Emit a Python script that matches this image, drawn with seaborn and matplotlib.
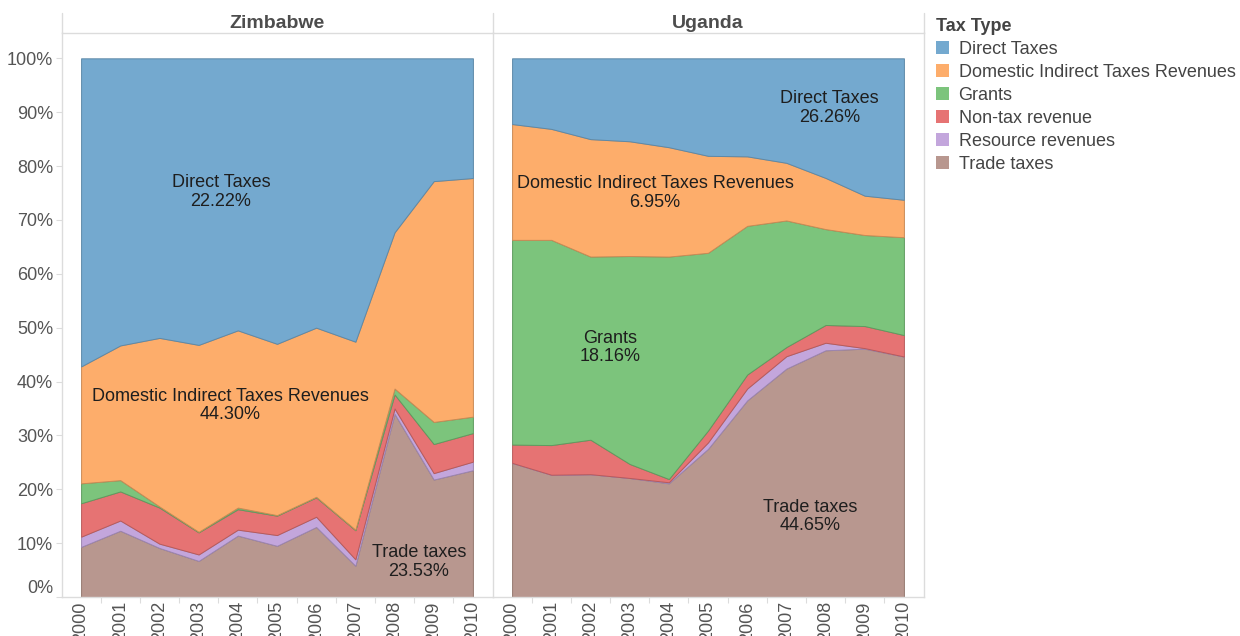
import matplotlib
matplotlib.use("Agg")
import matplotlib.pyplot as plt
from matplotlib.patches import Patch
from matplotlib.lines import Line2D
import seaborn as sns

years = list(range(2000, 2011))
tax_types = ["Direct Taxes", "Domestic Indirect Taxes Revenues", "Grants",
             "Non-tax revenue", "Resource revenues", "Trade taxes"]
colors = ["#74a9cf", "#fdad6b", "#7cc47c", "#e67373", "#c3a6dc", "#b8978f"]
edges = ["#5d89a8", "#c98a55", "#5f9c5f", "#b85a5a", "#9b84b0", "#94796f"]

# shares (%) per year, per tax type
zim_trade = [9.3, 12.3, 9.1, 6.7, 11.4, 9.5, 13.0, 5.8, 34.0, 21.8, 23.53]
zim_resource = [1.9, 1.9, 0.8, 1.2, 1.1, 2.0, 1.9, 1.2, 1.0, 1.2, 1.6]
zim_nontax = [6.2, 5.4, 6.7, 4.1, 3.8, 3.6, 3.6, 5.4, 2.6, 5.4, 5.3]
zim_grants = [3.7, 2.1, 0.2, 0.1, 0.3, 0.1, 0.1, 0.1, 1.1, 4.1, 3.05]
zim_domestic = [21.7, 25.0, 31.3, 34.7, 32.9, 31.8, 31.4, 34.9, 29.0, 44.7, 44.30]
zim_direct = [57.2, 53.3, 51.9, 53.2, 50.5, 53.0, 50.0, 52.6, 32.3, 22.8, 22.22]

uga_trade = [24.9, 22.7, 22.8, 22.1, 21.1, 27.5, 36.5, 42.4, 45.8, 46.1, 44.65]
uga_resource = [0.0, 0.0, 0.0, 0.0, 0.2, 1.2, 2.2, 2.3, 1.4, 0.1, 0.0]
uga_nontax = [3.4, 5.5, 6.4, 2.6, 0.6, 2.2, 2.6, 1.7, 3.3, 4.1, 3.98]
uga_grants = [38.0, 38.1, 34.0, 38.6, 41.3, 33.0, 27.6, 23.5, 17.8, 16.9, 18.16]
uga_domestic = [21.5, 20.6, 21.8, 21.3, 20.3, 18.0, 12.9, 10.7, 9.5, 7.3, 6.95]
uga_direct = [12.2, 13.1, 15.0, 15.4, 16.5, 18.1, 18.2, 19.4, 22.2, 25.5, 26.26]

countries = ["Zimbabwe", "Uganda"]
series = {
    "Zimbabwe": [zim_trade, zim_resource, zim_nontax, zim_grants, zim_domestic, zim_direct],
    "Uganda": [uga_trade, uga_resource, uga_nontax, uga_grants, uga_domestic, uga_direct],
}
labels = {
    "Zimbabwe": [("Direct Taxes\n22.22%", 2003.57, 75.2),
                 ("Domestic Indirect Taxes Revenues\n44.30%", 2003.8, 35.6),
                 ("Trade taxes\n23.53%", 2008.62, 6.5)],
    "Uganda": [("Direct Taxes\n26.26%", 2008.1, 90.8),
               ("Domestic Indirect Taxes Revenues\n6.95%", 2003.65, 75.0),
               ("Grants\n18.16%", 2002.5, 46.3),
               ("Trade taxes\n44.65%", 2007.6, 14.9)],
}

sns.set_theme(style="white")
plt.rcParams["font.family"] = ["Liberation Sans", "DejaVu Sans"]

W, H = 1240, 636
fig = plt.figure(figsize=(W / 100, H / 100), dpi=100)
grid = "#dcdcdc"
txt = "#555555"

lefts = [61.5, 492.5]
ax_w = 431
top_px, bot_px = 33, 597

for i, c in enumerate(countries):
    ax = fig.add_axes([lefts[i] / W, 1 - bot_px / H, ax_w / W, (bot_px - top_px) / H])
    stack_colors = colors[::-1]
    stack_edges = edges[::-1]
    base = [0.0] * len(years)
    for vals, fc, ec in zip(series[c], stack_colors, stack_edges):
        top = [b + v for b, v in zip(base, vals)]
        ax.fill_between(years, base, top, facecolor=fc, edgecolor=ec, linewidth=0.7)
        base = top
    ax.set_xlim(1999.5, 2010.5)
    ax.set_ylim(0, 104.7)
    ax.set_xticks(years)
    ax.set_xticklabels([str(y) for y in years], rotation=90, fontsize=13, color=txt)
    ax.set_xticks([y + 0.5 for y in years[:-1]], minor=True)
    ax.tick_params(axis="x", which="major", length=0, pad=3)
    ax.tick_params(axis="x", which="minor", length=4, color=grid, width=0.8, bottom=True)
    yt = list(range(0, 101, 10))
    ax.set_yticks(yt)
    if i == 0:
        ax.set_yticklabels([f"{v}%" for v in yt], fontsize=13, color=txt)
        ax.get_yticklabels()[0].set_va("bottom")
        ax.tick_params(axis="y", length=4, color=grid, width=0.8, left=True, pad=2)
    else:
        ax.set_yticklabels([])
        ax.tick_params(axis="y", length=0)
    for s in ax.spines.values():
        s.set_color(grid)
        s.set_linewidth(1)
    if i == 0:
        ax.spines["right"].set_visible(False)
    for text, x, y in labels[c]:
        ax.text(x, y, text, ha="center", va="center", fontsize=13,
                color="#1e1e1e", linespacing=1.1)
    fig.text((lefts[i] + ax_w / 2) / W, 1 - 23 / H, c, ha="center", va="center",
             fontsize=14, fontweight="bold", color="#4d4d4d")

for xp in [61.5, 492.5, 923.5]:
    fig.add_artist(Line2D([xp / W, xp / W], [1 - 13 / H, 1 - top_px / H],
                          color=grid, linewidth=1, transform=fig.transFigure))

handles = [Patch(facecolor=col, edgecolor="none") for col in colors]
leg = fig.legend(handles, tax_types, title="Tax Type", loc="upper left",
                 bbox_to_anchor=(936 / W, 1 - 18 / H), frameon=False, fontsize=13,
                 title_fontproperties={"weight": "bold", "size": 13},
                 handlelength=0.7, handleheight=0.7, handletextpad=0.55,
                 labelspacing=0.33, borderpad=0, borderaxespad=0, alignment="left")
leg.get_title().set_color("#444444")
for t in leg.get_texts():
    t.set_color("#444444")

fig.savefig("out.png", dpi=100)
